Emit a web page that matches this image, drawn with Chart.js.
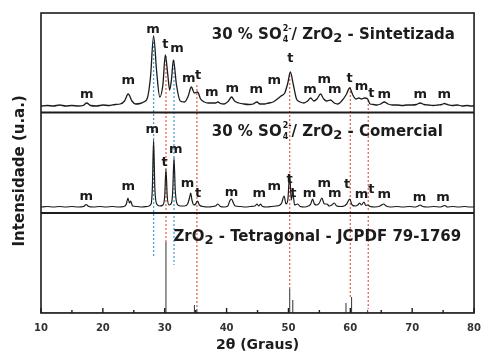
<!DOCTYPE html>
<html>
<head>
<meta charset="utf-8">
<script src="https://cdn.jsdelivr.net/npm/chart.js@4.4.1/dist/chart.umd.min.js"></script>
<style>
  html, body { margin: 0; padding: 0; background: #fff; }
  #wrap { width: 490px; height: 354px; }
</style>
</head>
<body>
<div id="wrap"><canvas id="xrd"></canvas></div>
<script>
// 2theta / intensity readings (intensity in px above each panel's baseline)
const synTheta = [
  10, 11, 12, 13, 14, 15, 16, 16.8, 17.4, 18,
  19, 20, 21, 22, 22.8, 23.5, 24.1, 24.7, 25.3, 26,
  26.6, 27.2, 27.7, 28.2, 28.7, 29.2, 29.7, 30.1, 30.5, 30.8,
  31.1, 31.4, 31.9, 32.5, 33.2, 33.8, 34.3, 34.8, 35.3, 35.8,
  36.4, 37.0, 37.6, 38.2, 38.6, 39.0, 39.6, 40.3, 40.8, 41.3,
  42.0, 42.8, 43.6, 44.3, 44.9, 45.4, 46.1, 46.8, 47.5, 48.2,
  48.8, 49.4, 49.9, 50.3, 50.8, 51.3, 51.9, 52.5, 53.1, 53.6,
  54.1, 54.6, 55.2, 55.7, 56.2, 56.8, 57.4, 58.0, 58.6, 59.3,
  59.9, 60.4, 60.9, 61.4, 61.8, 62.3, 62.8, 63.2, 63.7, 64.3,
  64.9, 65.5, 66.1, 66.8, 67.6, 68.4, 69.2, 70.0, 70.7, 71.3,
  71.9, 72.6, 73.4, 74.2, 74.8, 75.2, 75.7, 76.5, 77.3, 78.1,
  78.9, 79.5, 80
];
const synInt = [
  1, 1.5, 1, 2, 1, 1.5, 1, 1.5, 4, 1.5,
  1, 2, 1.5, 2.5, 3, 6, 13, 6, 3, 3.5,
  5, 9, 30, 71, 35, 10, 22, 52, 32, 17,
  28, 47, 22, 6, 5, 11, 20, 14, 15, 8,
  5, 4, 4, 4, 5, 3.5, 3, 6, 10, 6,
  4, 3, 2.5, 3, 5, 3, 3, 4, 5, 8,
  11, 14, 24, 35, 22, 8, 5, 4, 6, 9,
  6, 8, 13, 8, 6, 7, 4, 3, 6, 12,
  19, 12, 8, 9, 8, 9, 8, 3, 2.5, 2,
  3, 5, 3, 2, 2, 1.5, 2, 2, 2.5, 4,
  2.5, 2, 1.5, 2, 2.5, 3.5, 2.5, 1.5, 2, 1,
  1.5, 1, 1
];

const comTheta = [
  10, 11, 12, 13, 14, 15, 16, 16.9, 17.3, 17.7,
  18.5, 19.5, 20.5, 21.5, 22.5, 23.4, 23.8, 24.05, 24.3, 24.5,
  24.8, 25.5, 26.3, 27.2, 27.8, 28.0, 28.2, 28.4, 28.7, 29.2,
  29.7, 30.0, 30.2, 30.4, 30.7, 31.1, 31.3, 31.5, 31.7, 32.0,
  32.5, 33.2, 33.7, 34.0, 34.2, 34.4, 34.7, 35.0, 35.3, 35.6,
  36.2, 37.0, 37.8, 38.2, 38.6, 39.0, 39.6, 40.2, 40.5, 40.8,
  41.1, 41.4, 42.2, 43.0, 43.9, 44.6, 44.9, 45.2, 45.5, 45.8,
  46.5, 47.3, 48.0, 48.5, 48.9, 49.3, 49.6, 49.9, 50.2, 50.45,
  50.7, 51.0, 51.5, 51.9, 52.6, 53.2, 53.6, 53.9, 54.2, 54.6,
  55.0, 55.4, 55.8, 56.2, 56.6, 57.0, 57.4, 57.8, 58.4, 59.0,
  59.4, 59.9, 60.3, 60.8, 61.2, 61.5, 61.8, 62.2, 62.5, 62.8,
  63.2, 64.0, 64.8, 65.4, 65.8, 66.5, 67.5, 68.5, 69.5, 70.5,
  71.0, 71.3, 71.7, 72.5, 73.5, 74.5, 75.0, 75.3, 75.7, 76.5,
  77.5, 78.5, 79.3, 80
];
const comInt = [
  1, 1.5, 1, 1.5, 1, 1.5, 1, 1.5, 3.5, 1.5,
  1, 1.5, 1, 1.5, 1, 1.5, 4, 10, 5, 7,
  2, 1.5, 1, 1.5, 4, 20, 68, 20, 4, 2,
  3, 12, 39, 12, 3, 5, 18, 50, 18, 4,
  2, 2, 4, 10, 15, 8, 3, 4, 7, 3,
  1.5, 1, 1.5, 2, 4, 1.5, 1, 2, 7, 9,
  5, 2, 1.5, 1, 1.5, 2, 4, 2, 4, 1.5,
  1, 1.5, 2, 2.5, 5, 12, 4, 8, 34, 8,
  15, 3, 4, 1.5, 1, 2, 4, 9, 4, 3,
  5, 10, 4, 4, 2, 3, 5, 2, 1.5, 2,
  4, 9, 3, 2, 3, 5, 3, 6, 2.5, 3,
  1.5, 1, 2, 4, 2, 1, 1.5, 1, 1.5, 1,
  2, 3, 1.5, 1, 1.5, 1, 2, 2.5, 1, 1.5,
  1, 1.5, 1, 1
];

// JCPDF 79-1769 reference lines
const refTheta = [30.2, 34.8, 35.2, 50.2, 50.7, 59.3, 60.2, 62.8];
const refInt = [71, 8, 4, 24, 13, 10, 16, 3];

// panel baselines on the stacked intensity axis
const synOffset = 206;
const comOffset = 105;

// dotted guide lines (monoclinic blue, tetragonal red), stacked units
const monoGuideTheta = [28.2, 31.5];
const monoGuideFrom = [271, 253];
const monoGuideTo = [55, 48];
const tetraGuideTheta = [30.2, 35.2, 50.2, 60.0, 62.9];
const tetraGuideFrom = [257, 228, 238, 226, 213];
const tetraGuideTo = [71, 5, 24, 16, 4];

// phase labels (m = monoclinica, t = tetragonal), stacked units
const synLabelTheta = [17.4, 24.1, 28.1, 30.1, 32.0, 33.9, 35.4, 37.6, 40.9, 44.8, 47.7, 50.3, 53.5, 55.8, 57.5, 59.9, 61.8, 63.4, 65.5, 71.3, 75.2];
const synLabelText  = ['m', 'm', 'm', 't', 'm', 'm', 't', 'm', 'm', 'm', 'm', 't', 'm', 'm', 'm', 't', 'm', 't', 'm', 'm', 'm'];
const synLabelPos   = [219, 233, 284, 270, 265, 235, 239, 221, 225, 224, 233, 256, 224, 234, 224, 236, 227, 221, 219, 219, 219];
const comLabelTheta = [17.3, 24.1, 28.0, 30.0, 31.8, 33.7, 35.4, 40.8, 45.3, 47.7, 50.2, 50.8, 53.4, 55.8, 57.5, 59.5, 61.8, 63.4, 65.5, 71.2, 75.0];
const comLabelText  = ['m', 'm', 'm', 't', 'm', 'm', 't', 'm', 'm', 'm', 't', 't', 'm', 'm', 'm', 't', 'm', 't', 'm', 'm', 'm'];
const comLabelPos   = [117, 127, 184, 152, 164, 130, 121, 121, 120, 127, 135, 121, 120, 130, 120, 130, 119, 125, 119, 116, 116];

const panelTitles = [
  { theta: 37.6, pos: 274.5, parts: ['30 % SO', { sub: '4', sup: '2-' }, '/ ZrO', { sub: '2' }, ' - Sintetizada'] },
  { theta: 37.6, pos: 177.5, parts: ['30 % SO', { sub: '4', sup: '2-' }, '/ ZrO', { sub: '2' }, ' - Comercial'] },
  { theta: 31.4, pos: 72.5, parts: ['ZrO', { sub: '2' }, ' - Tetragonal - JCPDF 79-1769'] }
];
const panelSeparators = [100, 200.5];

const FONT = '"DejaVu Sans", sans-serif';
const INK = '#1c1c1c';

function toPoints(xs, ys, off) {
  return xs.map((x, i) => ({ x: x, y: ys[i] + off }));
}

const refPoints = [{ x: 10, y: 0 }];
refTheta.forEach((t, i) => {
  refPoints.push({ x: t, y: 0 }, { x: t, y: refInt[i] }, { x: t, y: 0 });
});
refPoints.push({ x: 80, y: 0 });

const guideSets = [];
monoGuideTheta.forEach((t, i) => {
  guideSets.push({ data: [{ x: t, y: monoGuideFrom[i] }, { x: t, y: monoGuideTo[i] }], color: '#4f9fd6' });
});
tetraGuideTheta.forEach((t, i) => {
  guideSets.push({ data: [{ x: t, y: tetraGuideFrom[i] }, { x: t, y: tetraGuideTo[i] }], color: '#e06a4e' });
});

const datasets = [
  { data: toPoints(synTheta, synInt, synOffset), borderColor: INK, borderWidth: 1.3, cubicInterpolationMode: 'monotone', order: 0 },
  { data: toPoints(comTheta, comInt, comOffset), borderColor: INK, borderWidth: 1.2, cubicInterpolationMode: 'monotone', order: 0 },
  { data: refPoints, borderColor: '#444', borderWidth: 1.1, tension: 0, order: 0 }
];
guideSets.forEach(g => {
  datasets.push({ data: g.data, borderColor: g.color, borderWidth: 1.3, borderDash: [2, 2], tension: 0, order: 1 });
});

function drawFormula(ctx, x, y, parts, size) {
  let cx = x;
  parts.forEach(p => {
    if (typeof p === 'string') {
      ctx.font = 'bold ' + size + 'px ' + FONT;
      ctx.fillText(p, cx, y);
      cx += ctx.measureText(p).width;
    } else if (p.sup) {
      const s = Math.round(size * 0.55);
      ctx.font = 'bold ' + s + 'px ' + FONT;
      ctx.fillText(p.sub, cx + 1, y + 3);
      ctx.fillText(p.sup, cx + 1, y - size * 0.5);
      cx += Math.max(ctx.measureText(p.sub).width, ctx.measureText(p.sup).width) + 1;
    } else {
      const s = Math.round(size * 0.85);
      ctx.font = 'bold ' + s + 'px ' + FONT;
      ctx.fillText(p.sub, cx, y + 3);
      cx += ctx.measureText(p.sub).width;
    }
  });
}

const decor = {
  id: 'decor',
  afterDatasetsDraw(chart) {
    const ctx = chart.ctx;
    const a = chart.chartArea;
    const xs = chart.scales.x;
    const ys = chart.scales.y;
    ctx.save();
    ctx.strokeStyle = INK;

    // panel separators
    ctx.lineWidth = 2.2;
    panelSeparators.forEach(v => {
      const py = ys.getPixelForValue(v);
      ctx.beginPath();
      ctx.moveTo(a.left, py);
      ctx.lineTo(a.right, py);
      ctx.stroke();
    });

    // frame
    ctx.lineWidth = 1.6;
    ctx.strokeRect(a.left, a.top, a.right - a.left, a.bottom - a.top);

    // inward ticks
    ctx.lineWidth = 1.4;
    for (let v = 10; v <= 80; v += 5) {
      const px = xs.getPixelForValue(v);
      const len = v % 10 === 0 ? 5 : 3;
      ctx.beginPath();
      ctx.moveTo(px, a.bottom);
      ctx.lineTo(px, a.bottom - len);
      ctx.stroke();
    }

    // phase labels
    ctx.fillStyle = INK;
    ctx.textAlign = 'center';
    ctx.textBaseline = 'alphabetic';
    ctx.font = 'bold 13px ' + FONT;
    const put = (thetas, texts, pos) => {
      thetas.forEach((t, i) => {
        const shift = texts[i] === 'm' ? 3.5 : 4.7;
        ctx.fillText(texts[i], xs.getPixelForValue(t), ys.getPixelForValue(pos[i]) + shift);
      });
    };
    put(synLabelTheta, synLabelText, synLabelPos);
    put(comLabelTheta, comLabelText, comLabelPos);

    // panel titles
    ctx.textAlign = 'left';
    panelTitles.forEach(pt => {
      drawFormula(ctx, xs.getPixelForValue(pt.theta), ys.getPixelForValue(pt.pos), pt.parts, 15);
    });
    ctx.restore();
  }
};

new Chart(document.getElementById('xrd'), {
  type: 'line',
  data: { datasets: datasets },
  options: {
    responsive: true,
    maintainAspectRatio: false,
    animation: false,
    layout: { padding: { top: 13, right: 5, left: 0, bottom: 0 } },
    elements: { point: { radius: 0 }, line: { fill: false } },
    plugins: { legend: { display: false }, tooltip: { enabled: false } },
    scales: {
      x: {
        type: 'linear',
        min: 10,
        max: 80,
        border: { display: false },
        grid: { display: false, drawTicks: false },
        ticks: { stepSize: 10, padding: 9, color: '#333', font: { family: FONT, size: 10, weight: 'bold' } },
        title: { display: true, text: '2θ (Graus)', color: INK, padding: 0, font: { family: FONT, size: 14, weight: 'bold' } },
        afterFit(scale) { scale.height = 41; }
      },
      y: {
        min: 0,
        max: 300,
        border: { display: false },
        grid: { display: false, drawTicks: false },
        ticks: { display: false },
        title: { display: true, text: 'Intensidade (u.a.)   ', color: INK, padding: { top: 11, bottom: 0 }, font: { family: FONT, size: 15, weight: 'bold' } },
        afterFit(scale) { scale.width = 41; }
      }
    }
  },
  plugins: [decor]
});
</script>
</body>
</html>
